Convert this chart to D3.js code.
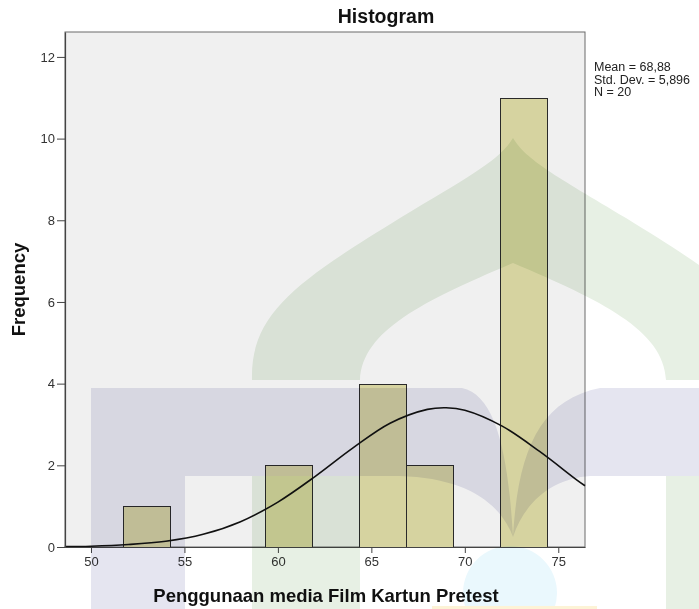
<!DOCTYPE html>
<meta charset="utf-8">
<style>
body { margin: 0; background: #fff; }
svg { display: block; font-family: "Liberation Sans", Arial, sans-serif; }
.axis text { font-size: 13px; fill: #333; }
.axis path, .axis line { stroke: #444; }
.mark { mix-blend-mode: multiply; }
</style>
<body>
<script src="https://cdn.jsdelivr.net/npm/d3@7"></script>
<script>
// histogram data
var binEdges = [51.73, 54.25, 56.77, 59.29, 61.81, 64.33, 66.85, 69.37, 71.89, 74.41];
var counts = [1, 0, 0, 2, 0, 4, 2, 0, 11];
// normal curve, points
var curveX = [48.6, 50, 52, 54, 56, 58, 60, 62, 64, 66, 68, 69, 70, 72, 74, 76, 76.43];
var curveY = [0.01, 0.02, 0.06, 0.14, 0.31, 0.62, 1.10, 1.73, 2.42, 3.03, 3.37, 3.41, 3.35, 2.96, 2.34, 1.64, 1.50];
var xTicks = [50, 55, 60, 65, 70, 75];
var yTicks = [0, 2, 4, 6, 8, 10, 12];
var statLines = ["Mean = 68,88", "Std. Dev. = 5,896", "N = 20"];

var W = 699, H = 609;
var margin = {top: 32, right: 114, bottom: 62, left: 65};
var pw = W - margin.left - margin.right,
    ph = H - margin.top - margin.bottom;

var svg = d3.select("body").append("svg")
    .attr("width", W)
    .attr("height", H);

var x = d3.scaleLinear().domain([48.61, 76.43]).range([margin.left, margin.left + pw]);
var y = d3.scaleLinear().domain([0, 12.61]).range([margin.top + ph, margin.top]);

// plot background
svg.append("rect")
    .attr("x", margin.left).attr("y", margin.top)
    .attr("width", pw).attr("height", ph)
    .attr("fill", "#f0f0f0")
    .attr("stroke", "#6a6a6a");

var bins = counts.map(function(c, i) { return {x0: binEdges[i], x1: binEdges[i + 1], n: c}; })
    .filter(function(d) { return d.n > 0; });

svg.selectAll(".bar")
    .data(bins)
  .enter().append("rect")
    .attr("class", "bar")
    .attr("x", function(d) { return Math.round(x(d.x0)) + 0.5; })
    .attr("y", function(d) { return Math.round(y(d.n)) + 0.5; })
    .attr("width", function(d) { return Math.round(x(d.x1)) - Math.round(x(d.x0)); })
    .attr("height", function(d) { return Math.round(y(0)) - Math.round(y(d.n)); })
    .attr("fill", "#d6d3a0")
    .attr("stroke", "#2a2a2a")
    .attr("stroke-width", 1);

var pts = curveX.map(function(v, i) { return [v, curveY[i]]; });
svg.append("path")
    .datum(pts)
    .attr("fill", "none")
    .attr("stroke", "#111")
    .attr("stroke-width", 1.6)
    .attr("d", d3.line()
        .x(function(d) { return x(d[0]); })
        .y(function(d) { return y(d[1]); })
        .curve(d3.curveCatmullRom));

svg.append("g")
    .attr("class", "axis")
    .attr("transform", "translate(0," + (margin.top + ph) + ")")
    .call(d3.axisBottom(x).tickValues(xTicks).tickSize(6).tickPadding(4).tickSizeOuter(0));

svg.append("g")
    .attr("class", "axis")
    .attr("transform", "translate(" + margin.left + ",0)")
    .call(d3.axisLeft(y).tickValues(yTicks).tickSize(8).tickPadding(2).tickSizeOuter(0));

svg.selectAll(".axis .domain").attr("stroke", "#333").attr("stroke-width", 1.2);

// titles
svg.append("text")
    .attr("x", 386).attr("y", 23)
    .attr("text-anchor", "middle")
    .attr("font-size", 19.5).attr("font-weight", "bold").attr("fill", "#111")
    .text("Histogram");

svg.append("text")
    .attr("x", margin.left + pw / 2 + 1).attr("y", 602)
    .attr("text-anchor", "middle")
    .attr("font-size", 18.5).attr("font-weight", "bold").attr("fill", "#111")
    .text("Penggunaan media Film Kartun Pretest");

svg.append("text")
    .attr("transform", "translate(25," + (margin.top + ph / 2) + ") rotate(-90)")
    .attr("text-anchor", "middle")
    .attr("font-size", 18.5).attr("font-weight", "bold").attr("fill", "#111")
    .text("Frequency");

svg.append("g").selectAll("text")
    .data(statLines)
  .enter().append("text")
    .attr("x", 594)
    .attr("y", function(d, i) { return 71 + i * 12.5; })
    .attr("font-size", 12.5).attr("fill", "#222")
    .text(function(d) { return d; });

// watermark on top of the page
var wm = svg.append("g").attr("class", "mark");
wm.append("path")
    .attr("fill", "#e7f0e4")
    .attr("d", "M252,380 C250,312 300,280 400,218 C470,176 500,160 513,138 C526,160 556,176 626,218 C726,280 776,312 774,380 " +
               "L666,380 C664,330 600,300 513,263 C426,300 362,330 360,380 Z");
wm.append("path").attr("fill", "#e7f0e4").attr("d", "M252,476 H360 V609 H252 Z M666,476 H774 V609 H666 Z");
wm.append("path")
    .attr("fill", "#e5e5f0")
    .attr("d", "M91,388 H462 C495,395 508,450 513,537 C500,502 465,478 400,476 H185 V609 H91 Z");
wm.append("path")
    .attr("fill", "#e5e5f0")
    .attr("d", "M513,537 C518,450 540,400 600,388 H699 V476 H590 C555,478 525,500 513,537 Z");
wm.append("circle").attr("cx", 510).attr("cy", 593).attr("r", 47).attr("fill", "#eaf8fd");
wm.append("rect").attr("x", 432).attr("y", 606).attr("width", 165).attr("height", 3).attr("fill", "#fdf3d6");
</script>
